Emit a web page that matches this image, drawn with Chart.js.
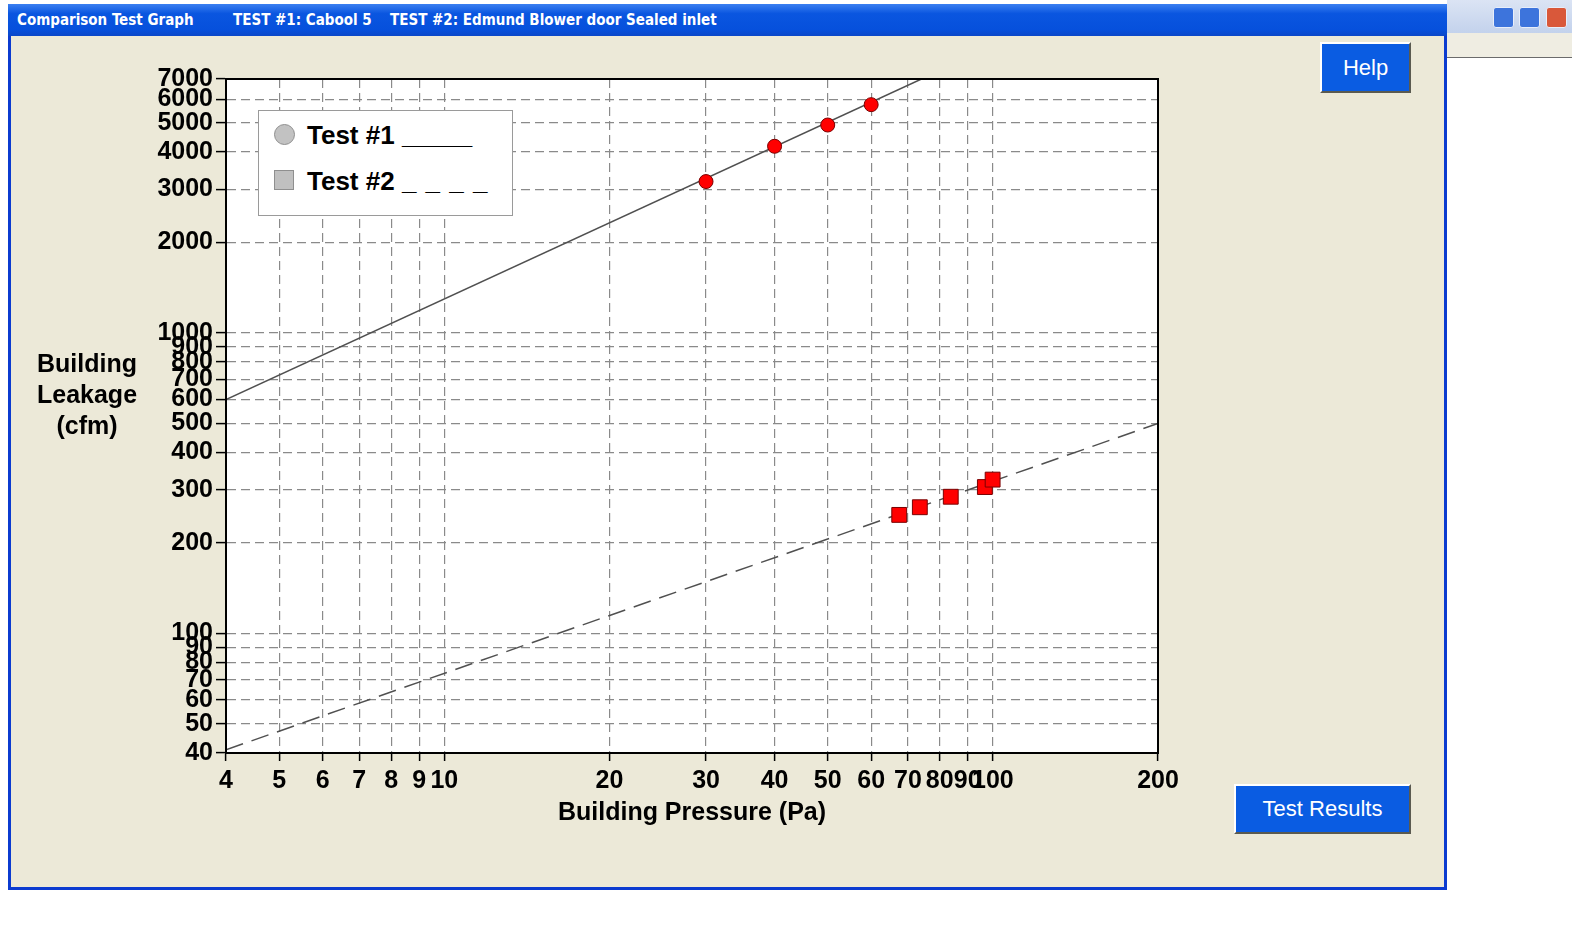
<!DOCTYPE html>
<html>
<head>
<meta charset="utf-8">
<title>Comparison Test Graph</title>
<script src="https://cdn.jsdelivr.net/npm/chart.js@4.4.1/dist/chart.umd.min.js"></script>
<style>
  html, body { margin: 0; padding: 0; }
  body { width: 1572px; height: 944px; position: relative; overflow: hidden; background: #ffffff; font-family: "Liberation Sans", Arial, sans-serif; }
  .abs { position: absolute; }
  #otherTop { left: 1447px; top: 0; width: 125px; height: 33px; background: linear-gradient(#dbe4f4, #c3d2ec); }
  #otherBar { left: 1447px; top: 33px; width: 125px; height: 24px; background: #efede2; border-bottom: 1px solid #6b6b6b; }
  .wbtn { top: 7px; width: 19px; height: 19px; border-radius: 3px; border: 1px solid #e8eefa; }
  #frame { left: 8px; top: 4px; width: 1439px; height: 886px; background: #0b3bd0; }
  #titlebar { left: 8px; top: 4px; width: 1439px; height: 32px; background: linear-gradient(#3b7ff0, #0a56e0 30%, #0650dc 80%, #0b47c8); }
  #titlebar span { position: absolute; top: 7px; color: #ffffff; font-size: 15px; font-weight: bold; font-family: "DejaVu Sans Condensed", "Liberation Sans", sans-serif; }
  #body { left: 11px; top: 36px; width: 1433px; height: 851px; background: #ece9d8; }
  .btn { background: #0a5ce2; color: #ffffff; font-size: 22px; text-align: center; box-sizing: border-box;
         border-top: 2px solid #ffffff; border-left: 2px solid #ffffff; border-right: 2px solid #5a5a50; border-bottom: 2px solid #5a5a50; }
  #help { left: 1320px; top: 42px; width: 91px; height: 51px; line-height: 47px; }
  #results { left: 1234px; top: 784px; width: 177px; height: 50px; line-height: 46px; }
  #chart { left: 0; top: 0; }
  #ytitle { left: 20px; top: 348px; width: 134px; text-align: center; font-size: 25px; font-weight: bold; line-height: 31px; color: #000; }
  #legend { left: 258px; top: 110px; width: 253px; height: 104px; background: #ffffff; border: 1px solid #9a9a9a; }
  .lgtext { position: absolute; left: 48px; font-size: 26px; font-weight: bold; color: #000; white-space: pre; }
  #lgc { left: 15px; top: 13px; width: 19px; height: 19px; border-radius: 50%; background: #c2c2c2; border: 1px solid #8f8f8f; }
  #lgs { left: 15px; top: 59px; width: 18px; height: 18px; background: #c0c0c0; border: 1px solid #8f8f8f; }
</style>
</head>
<body>
<div class="abs" id="otherTop"></div>
<div class="abs" id="otherBar"></div>
<div class="abs wbtn" style="left:1493px;background:#3d74dc;"></div>
<div class="abs wbtn" style="left:1519px;background:#3d74dc;"></div>
<div class="abs wbtn" style="left:1546px;background:#d9583a;"></div>

<div class="abs" id="frame"></div>
<div class="abs" id="titlebar">
  <span style="left:9px;">Comparison Test Graph</span>
  <span style="left:225px;">TEST #1: Cabool 5</span>
  <span style="left:382px;">TEST #2: Edmund Blower door Sealed inlet</span>
</div>
<div class="abs" id="body"></div>
<div class="abs btn" id="help">Help</div>
<div class="abs btn" id="results">Test Results</div>

<canvas class="abs" id="chart" width="1572" height="944"></canvas>

<div class="abs" id="ytitle">Building<br>Leakage<br>(cfm)</div>
<div class="abs" id="legend">
  <div class="abs" id="lgc"></div>
  <div class="lgtext" style="top:9px;">Test #1 <span style="letter-spacing:-0.5px;">_____</span></div>
  <div class="abs" id="lgs"></div>
  <div class="lgtext" style="top:55px;">Test #2 <span style="letter-spacing:1px;">_ _ _ _</span></div>
</div>

<script>
// measured points
var test1Pressure = [30, 40, 50, 60];
var test1Leakage = [3190, 4180, 4920, 5750];
var test2Pressure = [67.5, 73.6, 83.8, 96.7, 99.9];
var test2Leakage = [248, 263, 285, 307, 325];

// fitted lines (end points)
var fit1Pressure = [4, 74.1];
var fit1Leakage = [600, 7000];
var fit2Pressure = [4, 200];
var fit2Leakage = [41, 500];

// axis ticks
var xTickValues = [4, 5, 6, 7, 8, 9, 10, 20, 30, 40, 50, 60, 70, 80, 90, 100, 200];
var yTickValues = [40, 50, 60, 70, 80, 90, 100, 200, 300, 400, 500, 600, 700, 800, 900, 1000, 2000, 3000, 4000, 5000, 6000, 7000];

function toPoints(xs, ys) {
  var pts = [];
  for (var i = 0; i < xs.length; i++) {
    pts.push({ x: xs[i], y: ys[i] });
  }
  return pts;
}

// white plot background and the black frame round it
var plotFrame = {
  id: 'plotFrame',
  beforeDraw: function (chart) {
    var a = chart.chartArea;
    var ctx = chart.ctx;
    ctx.save();
    ctx.fillStyle = '#ffffff';
    ctx.fillRect(a.left, a.top, a.right - a.left, a.bottom - a.top);
    ctx.restore();
  },
  afterDraw: function (chart) {
    var a = chart.chartArea;
    var ctx = chart.ctx;
    ctx.save();
    ctx.strokeStyle = '#000000';
    ctx.lineWidth = 2;
    ctx.strokeRect(a.left, a.top, a.right - a.left, a.bottom - a.top);
    ctx.restore();
  }
};

var tickFont = { family: '"Liberation Sans", Arial, sans-serif', size: 25, weight: 'bold' };

new Chart(document.getElementById('chart').getContext('2d'), {
  type: 'scatter',
  data: {
    datasets: [{
      label: 'Test #1',
      data: toPoints(test1Pressure, test1Leakage),
      pointStyle: 'circle',
      pointRadius: 7,
      backgroundColor: '#ff0000',
      borderColor: '#7a0000',
      borderWidth: 1,
      showLine: false
    }, {
      label: 'Test #2',
      data: toPoints(test2Pressure, test2Leakage),
      pointStyle: 'rect',
      pointRadius: 10.5,
      backgroundColor: '#ff0000',
      borderColor: '#7a0000',
      borderWidth: 1,
      showLine: false
    }, {
      label: 'Test #1 fit',
      data: toPoints(fit1Pressure, fit1Leakage),
      showLine: true,
      pointRadius: 0,
      borderColor: '#505050',
      borderWidth: 1.5
    }, {
      label: 'Test #2 fit',
      data: toPoints(fit2Pressure, fit2Leakage),
      showLine: true,
      pointRadius: 0,
      borderColor: '#505050',
      borderWidth: 1.5,
      borderDash: [18, 9]
    }]
  },
  options: {
    responsive: false,
    animation: false,
    devicePixelRatio: 1,
    layout: { padding: { left: 0, top: 79, right: 414, bottom: 0 } },
    plugins: {
      legend: { display: false },
      tooltip: { enabled: false }
    },
    scales: {
      x: {
        type: 'logarithmic',
        min: 4,
        max: 200,
        afterBuildTicks: function (scale) {
          scale.ticks = xTickValues.map(function (v) { return { value: v }; });
        },
        afterFit: function (scale) { scale.height = 191; },
        ticks: {
          autoSkip: false,
          maxRotation: 0,
          padding: 5,
          color: '#000000',
          font: tickFont,
          callback: function (v) { return String(v); }
        },
        grid: { color: '#8a8a8a', lineWidth: 1.2, tickColor: '#000000', tickLength: 8, tickWidth: 1.5 },
        border: { display: true, color: '#000000', width: 2, dash: [9, 5] },
        title: {
          display: true,
          text: 'Building Pressure (Pa)',
          color: '#000000',
          font: tickFont,
          padding: { top: 0, bottom: 116 }
        }
      },
      y: {
        type: 'logarithmic',
        min: 40,
        max: 7000,
        afterBuildTicks: function (scale) {
          scale.ticks = yTickValues.map(function (v) { return { value: v }; });
        },
        afterFit: function (scale) { scale.width = 226; },
        ticks: {
          autoSkip: false,
          padding: 3,
          color: '#000000',
          font: tickFont,
          callback: function (v) { return String(v); }
        },
        grid: { color: '#8a8a8a', lineWidth: 1.2, tickColor: '#000000', tickLength: 10, tickWidth: 1.5 },
        border: { display: true, color: '#000000', width: 2, dash: [9, 5] }
      }
    }
  },
  plugins: [plotFrame]
});
</script>
</body>
</html>
